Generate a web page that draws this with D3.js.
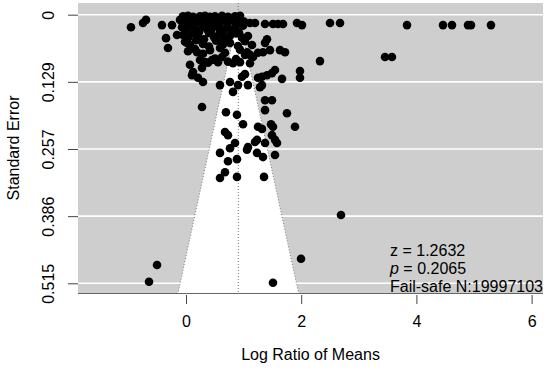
<!DOCTYPE html>
<html><head><meta charset="utf-8">
<script src="https://cdn.jsdelivr.net/npm/d3@7"></script>
<style>body{margin:0;background:#fff} svg{display:block} text{font-family:"Liberation Sans",Arial,sans-serif}</style>
</head><body><svg id="c" width="550" height="371"></svg>
<script>
const estimate = 0.908;
const xTicks = [0, 2, 4, 6];
const yTicks = [0, 0.12875, 0.2575, 0.38625, 0.515];
const yTickLabels = ["0", "0.129", "0.257", "0.386", "0.515"];
const xDomain = [-1.875, 6.198];
const yDomain = [-0.0224, 0.5336];
const xTitle = "Log Ratio of Means";
const yTitle = "Standard Error";
const statZ = "z = 1.2632";
const statP = "0.2065";
const statN = "Fail-safe N:19997103";

const logRatio = [
  -0.955,-0.747,-0.694,-0.417,-0.243,-0.347,-0.313,-0.156,
  1.111,1.198,1.372,1.510,1.597,1.684,1.927,2.014,2.500,2.674,3.837,4.462,4.618,4.896,4.948,5.295,3.455,3.576,2.326,
  1.406,1.372,1.458,1.632,1.719,1.979,1.979,1.667,1.372,1.493,1.372,1.753,0.278,0.694,0.885,0.990,1.250,1.476,1.892,
  0.590,0.764,0.816,0.903,0.972,1.024,1.076,1.250,1.319,1.406,1.493,1.545,
  0.017,0.191,0.590,0.069,0.122,0.278,0.330,0.451,0.556,0.625,0.816,0.938,1.024,1.111,1.163,1.250,1.337,0.208,0.295,0.104,1.285,1.319,
  0.677,0.729,1.510,1.545,1.493,1.580,1.233,1.372,0.851,0.764,1.076,1.059,1.233,1.337,1.545,0.590,0.729,0.885,0.677,0.590,0.885,1.354,1.198,1.319,
  2.691,1.997,-0.503,-0.642,1.510,
  -0.052,0.035,0.122,0.243,0.330,0.417,0.503,0.625,0.729,0.851,0.938,
  -0.104,-0.035,0.017,0.087,0.174,0.243,0.313,0.382,0.451,0.521,0.590,0.660,0.729,0.799,0.868,0.938,1.007,
  -0.069,0.000,0.069,0.156,0.226,0.295,0.365,0.434,0.503,0.573,0.642,0.712,0.781,0.851,0.920,0.990,
  -0.052,0.035,0.122,0.208,0.313,0.399,0.486,0.573,0.660,0.764,0.868,0.972,1.076,
  -0.017,0.069,0.174,0.295,0.399,0.521,0.642,0.764,0.903,1.024,1.146,
  0.035,0.156,0.295,0.417,0.677,0.938,1.059,
  0.243,0.382,0.503,0.729,0.868,1.111
];
const stdErr = [
  0.024,0.016,0.010,0.020,0.020,0.045,0.064,0.039,
  0.016,0.016,0.018,0.018,0.018,0.018,0.016,0.020,0.016,0.016,0.020,0.020,0.020,0.020,0.020,0.020,0.081,0.081,0.089,
  0.047,0.054,0.068,0.068,0.072,0.108,0.121,0.123,0.164,0.164,0.183,0.189,0.177,0.187,0.192,0.210,0.215,0.210,0.215,
  0.135,0.129,0.148,0.135,0.119,0.114,0.135,0.121,0.135,0.116,0.112,0.106,
  0.054,0.072,0.064,0.096,0.110,0.102,0.091,0.087,0.091,0.081,0.093,0.091,0.077,0.077,0.081,0.073,0.072,0.121,0.129,0.116,0.139,0.119,
  0.225,0.231,0.215,0.240,0.231,0.246,0.240,0.246,0.246,0.256,0.254,0.259,0.265,0.273,0.269,0.265,0.281,0.277,0.302,0.313,0.311,0.311,0.244,0.219,
  0.384,0.468,0.480,0.512,0.514,
  0.003,0.002,0.004,0.003,0.002,0.004,0.003,0.002,0.004,0.003,0.002,
  0.010,0.014,0.008,0.012,0.016,0.009,0.013,0.017,0.008,0.012,0.015,0.009,0.014,0.011,0.016,0.008,0.013,
  0.024,0.030,0.021,0.027,0.033,0.022,0.028,0.031,0.020,0.026,0.032,0.023,0.029,0.025,0.034,0.021,
  0.039,0.044,0.036,0.042,0.047,0.035,0.043,0.038,0.046,0.040,0.036,0.044,0.041,
  0.052,0.058,0.049,0.056,0.061,0.050,0.057,0.054,0.060,0.051,0.058,
  0.070,0.066,0.075,0.068,0.073,0.067,0.072,
  0.087,0.092,0.084,0.090,0.085,0.093
];

const L = 78, R = 543, T = 3, B = 293;
const svg = d3.select("#c");
const x = d3.scaleLinear().domain(xDomain).range([L, R]);
const y = d3.scaleLinear().domain(yDomain).range([T, B]);

svg.append("rect").attr("x", L).attr("y", T).attr("width", R - L).attr("height", B - T).attr("fill", "#cecece");
svg.append("g").selectAll("line").data(yTicks).join("line")
  .attr("x1", L).attr("x2", R).attr("y1", d => y(d)).attr("y2", d => y(d))
  .attr("stroke", "#fff").attr("stroke-width", 1.6);

const seBottom = yDomain[1];
const funnel = [[estimate, 0], [estimate - 1.96 * seBottom, seBottom], [estimate + 1.96 * seBottom, seBottom]];
svg.append("path").attr("d", d3.line().x(d => x(d[0])).y(d => y(d[1]))(funnel) + "Z").attr("fill", "#fff");
const edges = [[[estimate, 0], [estimate - 1.96 * seBottom, seBottom]], [[estimate, 0], [estimate + 1.96 * seBottom, seBottom]], [[estimate, yDomain[0]], [estimate, seBottom]]];
svg.append("g").selectAll("path").data(edges).join("path")
  .attr("d", d => d3.line().x(p => x(p[0])).y(p => y(p[1]))(d))
  .attr("fill", "none").attr("stroke", "#777").attr("stroke-width", 1).attr("stroke-dasharray", "1,2");

svg.append("line").attr("x1", L).attr("x2", R).attr("y1", B + 0.5).attr("y2", B + 0.5).attr("stroke", "#666").attr("stroke-width", 1);

svg.append("g").selectAll("circle").data(logRatio.map((v, i) => [v, stdErr[i]])).join("circle")
  .attr("cx", d => x(d[0])).attr("cy", d => y(d[1])).attr("r", 4.3).attr("fill", "#000");

const gx = svg.append("g").attr("transform", `translate(0,${B + 2})`)
  .call(d3.axisBottom(x).tickValues(xTicks).tickFormat(d3.format("d")).tickSize(9).tickPadding(12));
gx.select(".domain").remove();
gx.selectAll("line").attr("stroke", "#444");
gx.selectAll("text").attr("font-size", 16).attr("fill", "#000").attr("font-family", "Liberation Sans, Arial, sans-serif");

const gy = svg.append("g").attr("transform", `translate(${L},0)`)
  .call(d3.axisLeft(y).tickValues(yTicks).tickFormat((d, i) => yTickLabels[i]).tickSize(10));
gy.select(".domain").remove();
gy.selectAll("line").attr("stroke", "#444");
gy.selectAll("text").attr("font-size", 16).attr("fill", "#000").attr("font-family", "Liberation Sans, Arial, sans-serif")
  .attr("x", null).attr("dy", null).attr("text-anchor", "middle").attr("transform", "translate(-24,0) rotate(-90)");

svg.append("text").attr("x", (L + R) / 2).attr("y", 360).attr("text-anchor", "middle").attr("font-size", 16).text(xTitle);
svg.append("text").attr("transform", `translate(19,${(T + B) / 2}) rotate(-90)`).attr("text-anchor", "middle").attr("font-size", 16).text(yTitle);

const st = svg.append("g").attr("font-size", 16);
st.append("text").attr("x", 390).attr("y", 256).text(statZ);
const pt = st.append("text").attr("x", 390).attr("y", 274);
pt.append("tspan").attr("font-style", "italic").text("p");
pt.append("tspan").text(" = " + statP);
st.append("text").attr("x", 390).attr("y", 292).text(statN);
</script></body></html>
